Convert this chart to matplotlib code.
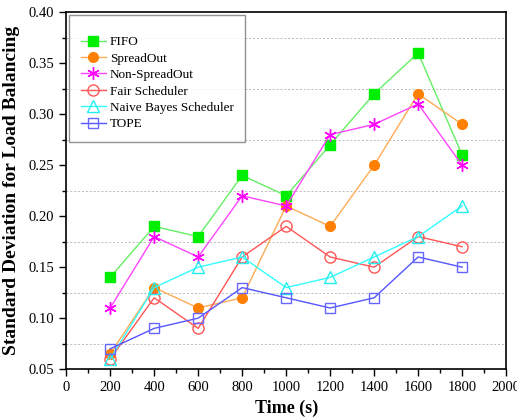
import numpy as np
import matplotlib.pyplot as plt
from matplotlib.ticker import MultipleLocator

plt.rcParams['font.family'] = ['Liberation Serif', 'DejaVu Serif']

time = [200, 400, 600, 800, 1000, 1200, 1400, 1600, 1800]
fifo = [0.14, 0.19, 0.18, 0.24, 0.22, 0.27, 0.32, 0.36, 0.26]
spread = [0.065, 0.13, 0.11, 0.12, 0.21, 0.19, 0.25, 0.32, 0.29]
nonspread = [0.11, 0.18, 0.16, 0.22, 0.21, 0.28, 0.29, 0.31, 0.25]
fair = [0.06, 0.12, 0.09, 0.16, 0.19, 0.16, 0.15, 0.18, 0.17]
naive = [0.06, 0.13, 0.15, 0.16, 0.13, 0.14, 0.16, 0.18, 0.21]
tope = [0.07, 0.09, 0.10, 0.13, 0.12, 0.11, 0.12, 0.16, 0.15]

fig = plt.figure(figsize=(5.17, 4.2), dpi=100)
ax = fig.add_axes([0.128, 0.121, 0.851, 0.850])

ax.plot(time, fifo, color='#66ee66', lw=1, marker='s', ms=6.5,
        mfc='#00ee00', mec='#00ee00', label='FIFO')
ax.plot(time, spread, color='#ffaa55', lw=1, marker='o', ms=7,
        mfc='#ff8000', mec='#ff8000', label='SpreadOut')
ax.plot(time, nonspread, color='#ff44ff', lw=1, marker=(6, 2, 0), ms=9,
        mec='#ff00ff', mew=1, label='Non-SpreadOut')
ax.plot(time, fair, color='#ff5555', lw=1, marker='o', ms=8,
        mfc='none', mec='#ff5555', mew=1, label='Fair Scheduler')
ax.plot(time, naive, color='#33ffff', lw=1, marker='^', ms=9,
        mfc='none', mec='#22eeee', mew=1, label='Naive Bayes Scheduler')
ax.plot(time, tope, color='#5555ff', lw=1, marker='s', ms=7,
        mfc='none', mec='#6666ff', mew=1, label='TOPE')

ax.set_xlim(0, 2000)
ax.set_ylim(0.05, 0.40)
ax.xaxis.set_major_locator(MultipleLocator(200))
ax.xaxis.set_minor_locator(MultipleLocator(100))
ax.yaxis.set_major_locator(MultipleLocator(0.05))
ax.yaxis.set_minor_locator(MultipleLocator(0.025))
ax.yaxis.set_major_formatter(plt.FormatStrFormatter('%.2f'))
ax.grid(True, which='minor', axis='y', ls=(0, (2, 2)), color='#bbbbbb', lw=0.7)
ax.tick_params(which='major', length=5, width=1, labelsize=10.5)
ax.tick_params(which='minor', length=3, width=1)
for s in ax.spines.values():
    s.set_linewidth(1.2)

ax.set_xlabel('Time (s)', fontsize=13, fontweight='bold')
ax.set_ylabel('Standard Deviation for Load Balancing', fontsize=14, fontweight='bold',
              labelpad=6)

leg = ax.legend(loc='upper left', fontsize=9.5, fancybox=False, edgecolor='#777777',
                borderaxespad=0.25, handlelength=1.9, handletextpad=0.3,
                labelspacing=0.32, borderpad=0.85, title=' ', title_fontsize=5)
leg.get_frame().set_linewidth(1)

fig.savefig('out.png', dpi=100)
